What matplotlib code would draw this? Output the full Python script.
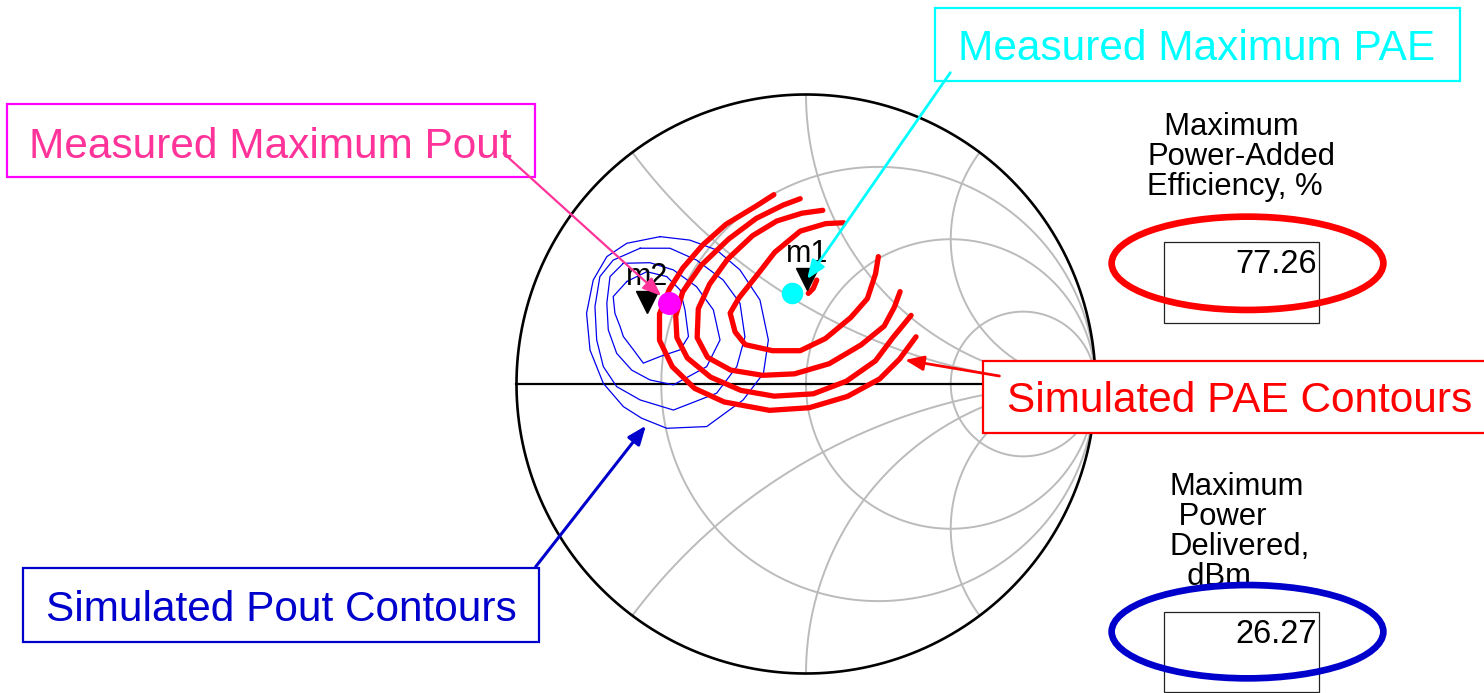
import numpy as np
import matplotlib
matplotlib.use('Agg')
import matplotlib.pyplot as plt
from matplotlib.patches import Rectangle, Ellipse
from matplotlib.text import Annotation

plt.rcParams['font.family'] = ['Liberation Sans', 'DejaVu Sans']

# Smith chart grid (normalised resistance / reactance)
r_grid = [1 / 3, 1.0, 3.0]
x_grid = [0.5, 1.0, 2.0]

# simulated PAE contours (reflection coefficient, real / imag)
pae_a_re = [-0.111, -0.170, -0.276, -0.357, -0.426, -0.472, -0.506, -0.506, -0.462, -0.385, -0.283, -0.126, 0.011, 0.143, 0.255, 0.323, 0.380]
pae_a_im = [0.654, 0.616, 0.552, 0.480, 0.400, 0.327, 0.242, 0.151, 0.060, -0.015, -0.062, -0.091, -0.082, -0.043, 0.018, 0.086, 0.163]
pae_b_re = [-0.020, -0.079, -0.172, -0.268, -0.362, -0.426, -0.450, -0.446, -0.410, -0.330, -0.225, -0.110, 0.025, 0.140, 0.240, 0.300, 0.363]
pae_b_im = [0.640, 0.618, 0.572, 0.500, 0.410, 0.318, 0.235, 0.160, 0.090, 0.024, -0.022, -0.042, -0.034, 0.010, 0.080, 0.160, 0.237]
pae_c_re = [0.058, -0.014, -0.101, -0.185, -0.270, -0.333, -0.372, -0.376, -0.340, -0.260, -0.150, -0.040, 0.080, 0.190, 0.270, 0.305, 0.325]
pae_c_im = [0.600, 0.590, 0.563, 0.512, 0.432, 0.345, 0.260, 0.160, 0.092, 0.048, 0.030, 0.035, 0.070, 0.135, 0.200, 0.265, 0.319]
pae_d_re = [0.130, 0.068, -0.020, -0.108, -0.170, -0.232, -0.262, -0.245, -0.210, -0.115, -0.020, 0.067, 0.155, 0.212, 0.240, 0.250]
pae_d_im = [0.557, 0.554, 0.528, 0.455, 0.375, 0.297, 0.245, 0.180, 0.136, 0.115, 0.115, 0.157, 0.230, 0.295, 0.380, 0.440]
pae_e_re = [0.037, 0.025, 0.008]
pae_e_im = [0.359, 0.330, 0.313]

# simulated Pout contours
pout_a_re = [-0.504, -0.401, -0.309, -0.228, -0.159, -0.130, -0.147, -0.217, -0.343, -0.481, -0.568, -0.631, -0.700, -0.746, -0.758, -0.735, -0.688, -0.619]
pout_a_im = [0.509, 0.497, 0.463, 0.394, 0.290, 0.152, 0.037, -0.055, -0.147, -0.153, -0.118, -0.078, 0.002, 0.117, 0.244, 0.359, 0.440, 0.486]
pout_b_re = [-0.573, -0.470, -0.378, -0.286, -0.228, -0.211, -0.239, -0.309, -0.458, -0.573, -0.654, -0.700, -0.723, -0.729, -0.712, -0.666]
pout_b_im = [0.469, 0.469, 0.428, 0.359, 0.279, 0.163, 0.060, -0.032, -0.090, -0.055, -0.009, 0.060, 0.152, 0.267, 0.371, 0.428]
pout_c_re = [-0.631, -0.539, -0.458, -0.378, -0.320, -0.297, -0.343, -0.458, -0.539, -0.602, -0.654, -0.683, -0.688, -0.677]
pout_c_im = [0.417, 0.419, 0.394, 0.336, 0.256, 0.152, 0.060, -0.003, 0.014, 0.048, 0.106, 0.187, 0.279, 0.371]
pout_d_re = [-0.619, -0.550, -0.481, -0.435, -0.418, -0.406, -0.435, -0.504, -0.562, -0.596, -0.631, -0.642, -0.660, -0.666]
pout_d_im = [0.354, 0.388, 0.371, 0.325, 0.256, 0.164, 0.118, 0.095, 0.072, 0.118, 0.164, 0.198, 0.244, 0.302]

# markers and measured points
m1 = (0.004, 0.362)
m2 = (-0.550, 0.282)
meas_pae = (-0.049, 0.313)
meas_pout = (-0.472, 0.279)
pae_arrow_tip = (0.342, 0.083)
pout_arrow_tip = (-0.553, -0.144)

max_pae = 77.26
max_pout = 26.27

W, H = 1484, 693
fig = plt.figure(figsize=(W / 100, H / 100), dpi=100)

# chart centre and radius in pixels (from the top-left corner)
CX, CY, R = 806, 384, 289.5
lim = 1.05
ax = fig.add_axes([(CX - R * lim) / W, (H - CY - R * lim) / H, 2 * R * lim / W, 2 * R * lim / H])
ax.set_xlim(-lim, lim)
ax.set_ylim(-lim, lim)
ax.axis('off')

grid_col = '#bbbbbb'
t = np.linspace(0, 2 * np.pi, 500)
for r in r_grid:
    c, rad = r / (1 + r), 1 / (1 + r)
    ax.plot(c + rad * np.cos(t), rad * np.sin(t), color=grid_col, lw=1.4, zorder=1)
rr = np.concatenate([[0], np.logspace(-3, 4, 800)])
for x in x_grid:
    z = rr + 1j * x
    g = (z - 1) / (z + 1)
    ax.plot(g.real, g.imag, color=grid_col, lw=1.4, zorder=1)
    ax.plot(g.real, -g.imag, color=grid_col, lw=1.4, zorder=1)

ax.plot(np.cos(t), np.sin(t), color='black', lw=1.9, zorder=2)
ax.plot([-1, 1], [0, 0], color='black', lw=1.6, zorder=2)

for re, im in [(pout_a_re, pout_a_im), (pout_b_re, pout_b_im),
               (pout_c_re, pout_c_im), (pout_d_re, pout_d_im)]:
    ax.plot(re + re[:1], im + im[:1], color='#0000ee', lw=0.9, zorder=3)

for re, im in [(pae_a_re, pae_a_im), (pae_b_re, pae_b_im), (pae_c_re, pae_c_im),
               (pae_d_re, pae_d_im), (pae_e_re, pae_e_im)]:
    ax.plot(re, im, color='#ff0000', lw=3.8, solid_capstyle='round',
            solid_joinstyle='round', zorder=4)

ax.plot(*meas_pae, 'o', color='#00ffff', ms=14.5, zorder=5)
ax.plot(*meas_pout, 'o', color='#ff00ff', ms=15.5, zorder=5)
for name, pt in [('m1', m1), ('m2', m2)]:
    ax.plot(*pt, 'v', color='black', ms=16, zorder=6)
    ax.annotate(name, xy=pt, xytext=(0, 17), textcoords='offset pixels',
                ha='center', va='baseline', fontsize=22, zorder=6)


def fy(y):
    return H - y


def arrow(tip, start, color, lw, shrink=0):
    # drawn at figure level so the lines sit on top of the label boxes
    ann = Annotation('', xy=tip, xycoords=ax.transData, xytext=(start[0], fy(start[1])),
                     textcoords='figure pixels', annotation_clip=False,
                     arrowprops=dict(arrowstyle='-|>,head_length=0.75,head_width=0.3',
                                     mutation_scale=15, color=color, lw=lw,
                                     shrinkA=0, shrinkB=shrink))
    ann.set_zorder(20)
    fig.add_artist(ann)


def label_box(x0, y0, x1, y1, text, tx, base, tcol, ecol):
    fig.add_artist(Rectangle((x0 / W, fy(y1) / H), (x1 - x0) / W, (y1 - y0) / H,
                             transform=fig.transFigure, facecolor='white',
                             edgecolor=ecol, lw=1.6, zorder=10))
    fig.text(tx / W, fy(base) / H, text, color=tcol, fontsize=30.5,
             ha='left', va='baseline', zorder=11)


label_box(7, 104, 535, 177, 'Measured Maximum Pout', 28.6, 157.7, '#ff3399', '#ff00ff')
label_box(935.4, 8.3, 1459.8, 80.7, 'Measured Maximum PAE', 957.7, 60, '#00ffff', '#00ffff')
label_box(983, 361, 1500, 433, 'Simulated PAE Contours', 1007, 411.7, '#ff0000', '#ff0000')
label_box(23.2, 568.3, 538.6, 641.7, 'Simulated Pout Contours', 46.4, 621, '#0000cc', '#0000cc')

arrow(meas_pout, (503.6, 153.3), '#ff3399', 1.6, shrink=8)
arrow(m1, (950.3, 72.7), '#00ffff', 2.0)
arrow(pae_arrow_tip, (999.4, 376), '#ff0000', 2.0)
arrow(pout_arrow_tip, (535.7, 566.7), '#0000cc', 2.2)


def readout(lines, x, base0, box_top, value, ell_col, ell_y):
    for i, line in enumerate(lines):
        fig.text(x / W, fy(base0 + 30 * i) / H, line, fontsize=22.3,
                 ha='left', va='baseline', zorder=11)
    fig.add_artist(Rectangle((1164 / W, fy(box_top + 80.5) / H), 155.3 / W, 80.5 / H,
                             transform=fig.transFigure, facecolor='none',
                             edgecolor='#222222', lw=0.9, zorder=12))
    fig.text(1316.7 / W, fy(box_top + 31) / H, f'{value:.2f}', fontsize=23.5,
             ha='right', va='baseline', zorder=12)
    fig.add_artist(Ellipse((1247.5 / W, fy(ell_y) / H), 271.7 / W, 93.3 / H,
                           transform=fig.transFigure, facecolor='none',
                           edgecolor=ell_col, lw=4.8, zorder=13))


readout(['  Maximum', 'Power-Added', 'Efficiency, %'], 1147, 135, 242.3,
        max_pae, '#ff0000', 263.3)
readout(['Maximum', ' Power', 'Delivered,', '  dBm'], 1170, 495, 611.7,
        max_pout, '#0000cc', 631.7)

fig.savefig('out.png', dpi=100, facecolor='white')
